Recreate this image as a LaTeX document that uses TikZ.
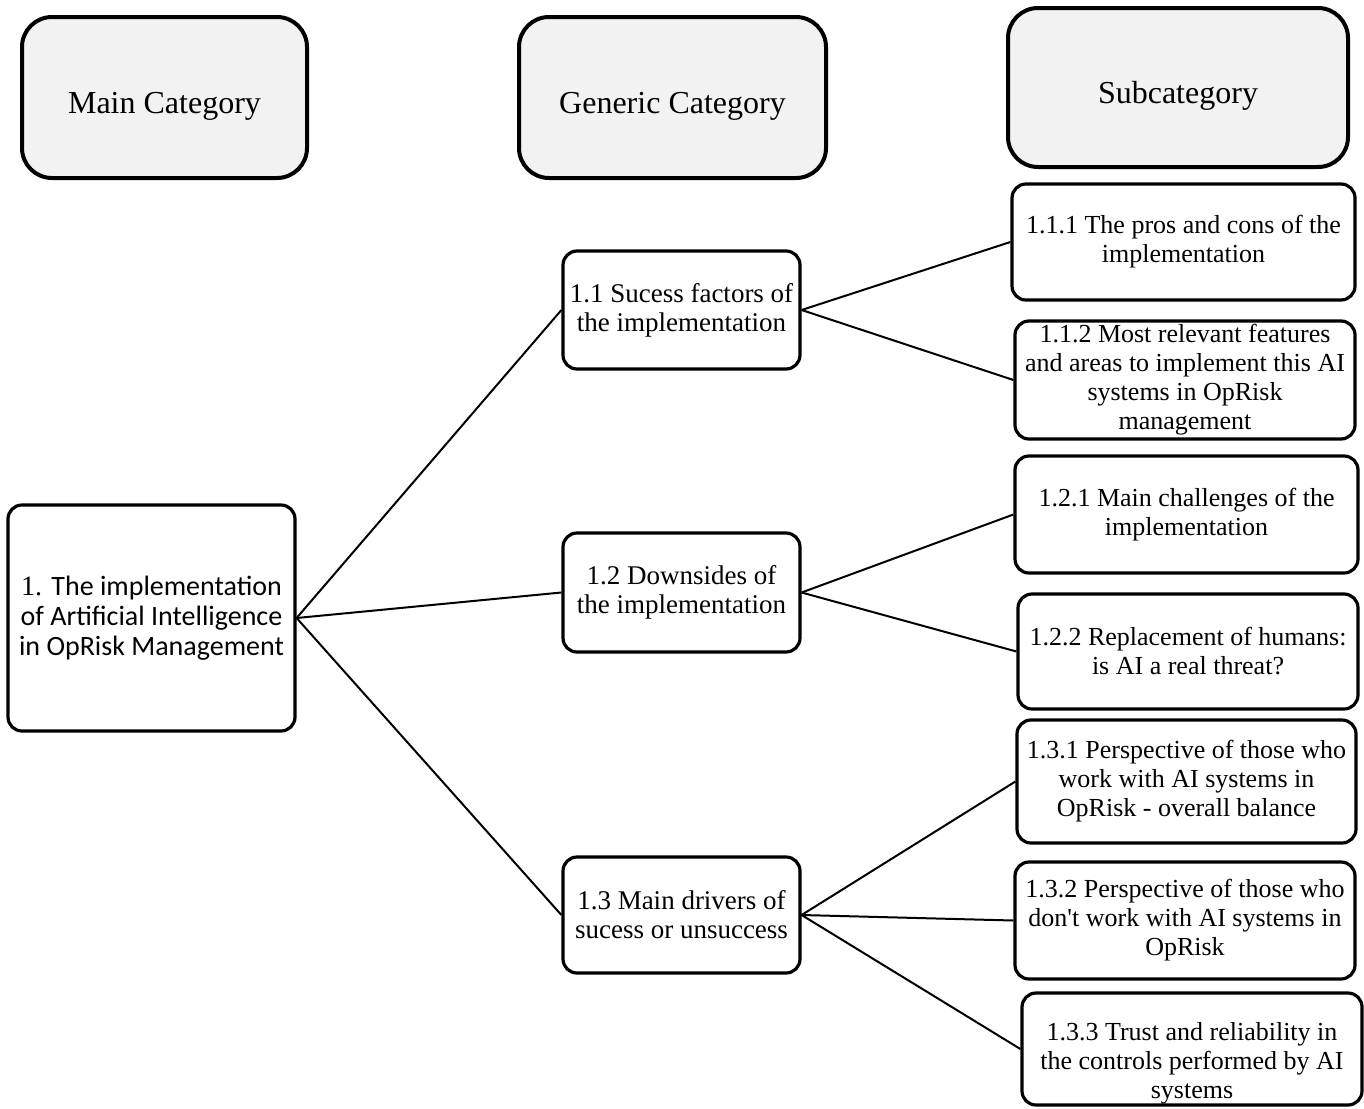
\documentclass[tikz,border=0pt]{standalone}
\usepackage{fontspec}
\setmainfont{Liberation Serif}[Ligatures=TeXOff]
\newfontfamily\calibri{Carlito}
\usepackage{xcolor}
\usepackage{tikz}
\usetikzlibrary{positioning, calc}
\definecolor{headgray}{HTML}{F2F2F2}

\begin{document}
\begin{tikzpicture}[
    x=0.5pt, y=-0.5pt,
    header/.style={draw, line width=2pt, fill=headgray, rounded corners=15pt, align=center, font=\fontsize{16}{19}\selectfont, inner sep=0pt, text height=19pt, text depth=3.5pt},
    box/.style={draw, line width=1.6pt, rounded corners=7pt, align=center, font=\fontsize{13}{14.5}\selectfont, inner sep=0pt},
    genbox/.style={box, minimum width=118.5pt, font=\fontsize{13.5}{14.5}\selectfont},
    subbox/.style={box, minimum width=170pt},
    link/.style={line width=1pt}
]
\useasboundingbox (0,0) rectangle (1364,1108);

% Header row
\node[header, minimum width=142.5pt, minimum height=80.5pt] (hmain) at (164.5,97.5) {Main Category};
\node[header, minimum width=153.5pt, minimum height=80.5pt] (hgen) at (672.5,97.5) {Generic Category};
\node[header, minimum width=170pt, minimum height=79.5pt] (hsub) at (1178,87.5) {Subcategory};

% Main category
\node[box, minimum width=143.5pt, minimum height=113pt, font=\fontsize{14}{15}\selectfont] (main) at (151.5,618)
    {1. {\calibri The implementation}\\{\calibri of Artificial Intelligence}\\{\calibri in OpRisk Management}};

% Generic categories
\node[genbox, minimum height=59pt] (gen11) at (681.5,310) {1.1 Sucess factors of\\the implementation};
\node[genbox, minimum height=59.5pt] (gen12) at (681.5,592.5) {1.2 Downsides of\\the implementation};
\node[genbox, minimum height=58pt] (gen13) at (681.5,915) {1.3 Main drivers of\\sucess or unsuccess};

% Subcategories
\node[subbox, minimum width=171.5pt, minimum height=58pt] (sub111) at (1183.5,242) {1.1.1 The pros and cons of the\\implementation};
\node[subbox, minimum height=59pt] (sub112) at (1185,380) {1.1.2 Most relevant features\\and areas to implement this AI\\systems in OpRisk\\management};
\node[subbox, minimum width=171.5pt, minimum height=58.5pt] (sub121) at (1186.5,514.5) {1.2.1 Main challenges of the\\implementation};
\node[subbox, minimum height=57.5pt] (sub122) at (1188,651.5) {1.2.2 Replacement of humans:\\is AI a real threat?};
\node[subbox, minimum width=169.5pt, minimum height=61.5pt] (sub131) at (1186.5,781.5) {1.3.1 Perspective of those who\\work with AI systems in\\OpRisk - overall balance};
\node[subbox, minimum height=58.5pt] (sub132) at (1185,920.5) {1.3.2 Perspective of those who\\don't work with AI systems in\\OpRisk};
\node[subbox, minimum height=56pt, text height=52.5pt, text depth=3.5pt] (sub133) at (1192,1049) {1.3.3 Trust and reliability in\\the controls performed by AI\\systems};

% Connectors main -> generic
\draw[link] (main.east) -- (gen11.west);
\draw[link] (main.east) -- (gen12.west);
\draw[link] (main.east) -- (gen13.west);

% Connectors generic -> sub
\draw[link] (gen11.east) -- (sub111.west);
\draw[link] (gen11.east) -- (sub112.west);
\draw[link] (gen12.east) -- (sub121.west);
\draw[link] (gen12.east) -- (sub122.west);
\draw[link] (gen13.east) -- (sub131.west);
\draw[link] (gen13.east) -- (sub132.west);
\draw[link] (gen13.east) -- (sub133.west);

\end{tikzpicture}
\end{document}
